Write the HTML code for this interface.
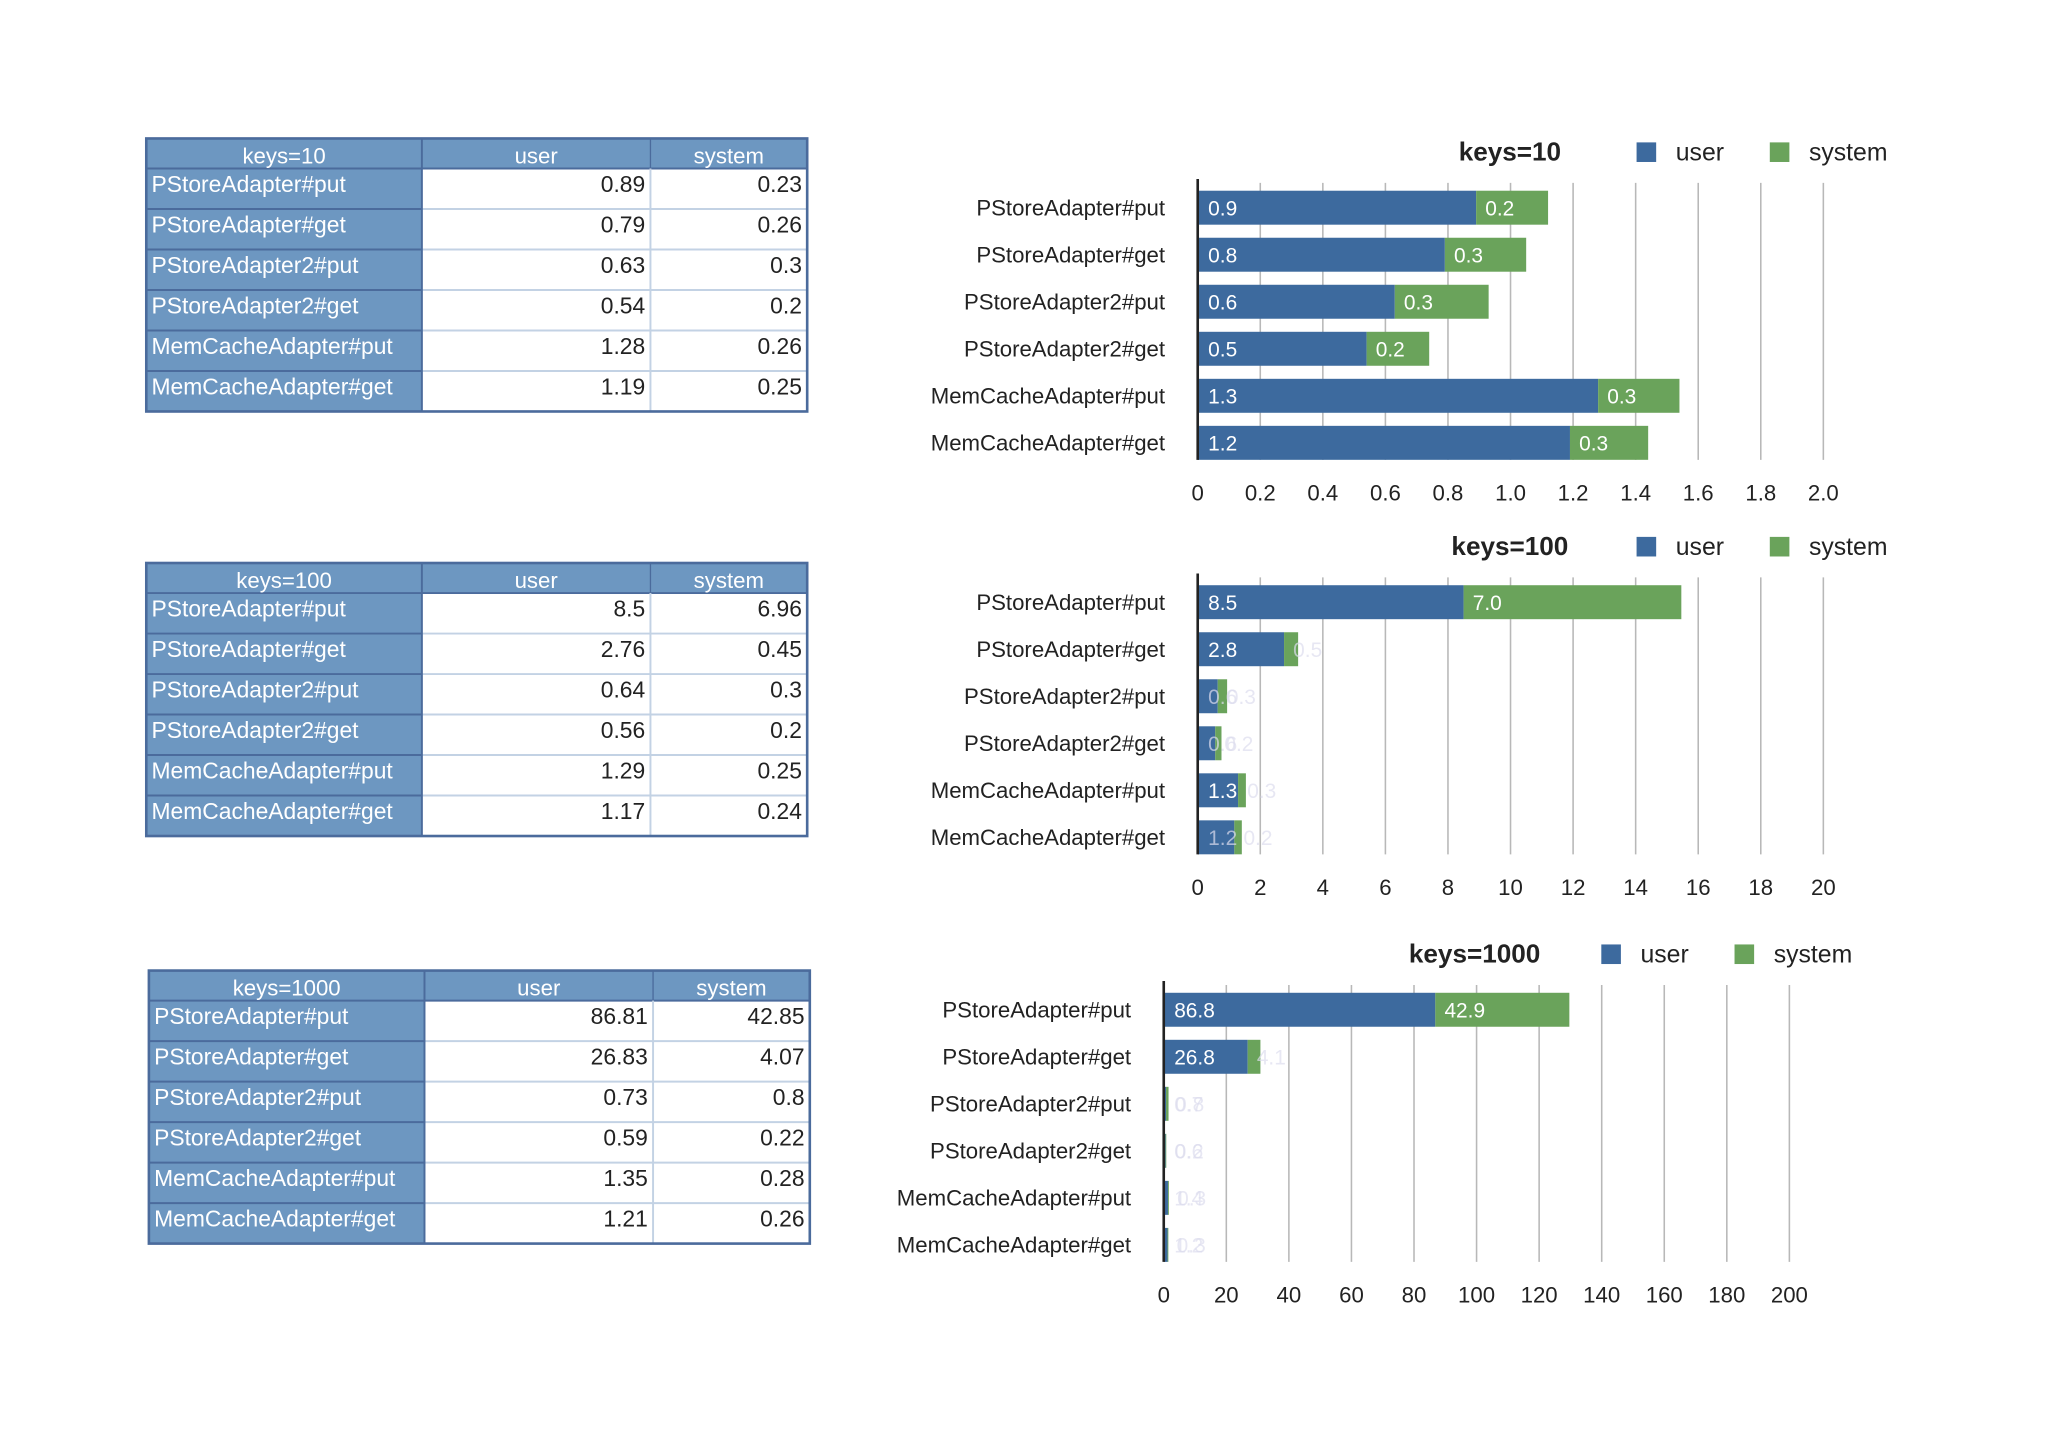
<!DOCTYPE html>
<html><head><meta charset="utf-8"><style>
html,body{margin:0;padding:0;background:#fff;}
svg{display:block;font-family:"Liberation Sans",sans-serif;}
</style></head><body>
<svg id="root" width="2048" height="1433" viewBox="0 0 1568 1097" preserveAspectRatio="none" xmlns="http://www.w3.org/2000/svg">
<rect x="0" y="0" width="1568" height="1097" fill="#fff"/>
</svg>
<script>
const categories = ["PStoreAdapter#put","PStoreAdapter#get","PStoreAdapter2#put","PStoreAdapter2#get","MemCacheAdapter#put","MemCacheAdapter#get"];
const titles = ["keys=10","keys=100","keys=1000"];
const userK10 = [0.89,0.79,0.63,0.54,1.28,1.19];
const sysK10 = [0.23,0.26,0.3,0.2,0.26,0.25];
const userK100 = [8.5,2.76,0.64,0.56,1.29,1.17];
const sysK100 = [6.96,0.45,0.3,0.2,0.25,0.24];
const userK1000 = [86.81,26.83,0.73,0.59,1.35,1.21];
const sysK1000 = [42.85,4.07,0.8,0.22,0.28,0.26];
const ticksK10 = ["0","0.2","0.4","0.6","0.8","1.0","1.2","1.4","1.6","1.8","2.0"];
const ticksK100 = ["0","2","4","6","8","10","12","14","16","18","20"];
const ticksK1000 = ["0","20","40","60","80","100","120","140","160","180","200"];
const maxK10 = 2.0, maxK100 = 20, maxK1000 = 200;

const NS="http://www.w3.org/2000/svg";
const root=document.getElementById('root');
function mk(tag,attrs,parent,text){const e=document.createElementNS(NS,tag);for(const k in attrs)e.setAttribute(k,attrs[k]);if(text!==undefined)e.textContent=text;(parent||root).appendChild(e);return e;}
const BLUE="#3d6a9e",GREEN="#6aa35b",TBL="#6d97c1",TBD="#4b6b9c";

function table(x,y,title,u,s,idx){
  const g=mk('g',{});
  
  
  const w0=211,w1=175,w2=120,hh=23,rh=31;
  const W=w0+w1+w2,H=hh+rh*6;
  mk('rect',{x:x,y:y,width:W,height:hh,fill:TBL},g);
  mk('rect',{x:x,y:y+hh,width:w0,height:rh*6,fill:TBL},g);
  mk('rect',{x:x+w0,y:y+hh,width:w1+w2,height:rh*6,fill:"#fff"},g);
  for(let i=1;i<6;i++){
    mk('line',{x1:x,x2:x+w0,y1:y+hh+rh*i,y2:y+hh+rh*i,stroke:TBD,'stroke-width':1.5},g);
    mk('line',{x1:x+w0,x2:x+W,y1:y+hh+rh*i,y2:y+hh+rh*i,stroke:"#c3d2e4",'stroke-width':1.5},g);
  }
  mk('line',{x1:x,x2:x+W,y1:y+hh,y2:y+hh,stroke:TBD,'stroke-width':1.5},g);
  mk('line',{x1:x+w0,x2:x+w0,y1:y,y2:y+H,stroke:TBD,'stroke-width':1.5},g);
  mk('line',{x1:x+w0+w1,x2:x+w0+w1,y1:y,y2:y+hh,stroke:TBD,'stroke-width':1},g);
  mk('line',{x1:x+w0+w1,x2:x+w0+w1,y1:y+hh,y2:y+H,stroke:"#c3d2e4",'stroke-width':1.5},g);
  mk('rect',{x:x,y:y,width:W,height:H,fill:"none",stroke:TBD,'stroke-width':2},g);
  const hdr=[title,"user","system"],cx=[x+w0/2,x+w0+w1/2,x+w0+w1+w2/2];
  hdr.forEach((t,i)=>{const e=mk('text',{x:cx[i],y:y+19,'font-size':17,fill:"#fff",'text-anchor':'middle'},g,t);
    
    });
  categories.forEach((c,i)=>{
    const ty=y+hh+rh*i+18;
    mk('text',{x:x+4,y:ty,'font-size':17.5,fill:"#fff"},g,c);
    mk('text',{x:x+w0+w1-4,y:ty,'font-size':17.5,fill:"#222",'text-anchor':'end'},g,String(u[i]));
    mk('text',{x:x+W-4,y:ty,'font-size':17.5,fill:"#222",'text-anchor':'end'},g,String(s[i]));
  });
}
table(112,106,titles[0],userK10,sysK10,0);
table(112,431,titles[1],userK100,sysK100,1);
table(114,743,titles[2],userK1000,sysK1000,2);

function fmt(v){return v.toFixed(1);}
function chart(x0,top,title,titleX,legX,u,s,ticks,max,idx){
  const g=mk('g',{});
  
  
  const plotW=479;
  const sx=v=>x0+v/max*plotW;
  const firstC=top+49, step=36, bh=26;
  const gy1=firstC-19, gy2=firstC+5*step+13;
  ticks.forEach((t,i)=>{
    const v=max*i/(ticks.length-1);
    if(i>0) mk('line',{x1:sx(v),x2:sx(v),y1:gy1,y2:gy2,stroke:"#b8b8b8",'stroke-width':1.2},g);
    const e=mk('text',{x:sx(v),y:top+273,'font-size':17,fill:"#222",'text-anchor':'middle'},g,t);
    
    
  });
  categories.forEach((c,i)=>{
    const cy=firstC+i*step;
    const l=mk('text',{x:x0-25,y:cy+6,'font-size':17,fill:"#222",'text-anchor':'end'},g,c);
    
    
    const b=mk('rect',{x:sx(0),y:cy-bh/2,width:sx(u[i])-sx(0),height:bh,fill:BLUE},g);
    
    
    const b2=mk('rect',{x:sx(u[i]),y:cy-bh/2,width:sx(u[i]+s[i])-sx(u[i]),height:bh,fill:GREEN},g);
    
    
    const uw=sx(u[i])-sx(0), sw=sx(u[i]+s[i])-sx(u[i]);
    mk('text',{x:sx(0)+8,y:cy+6,'font-size':16,fill:uw>30?"#fff":"#dde",opacity:uw>30?1:0.7},g,fmt(u[i]));
    mk('text',{x:sx(u[i])+7,y:cy+6,'font-size':16,fill:sw>30?"#fff":"#dde",opacity:sw>30?1:0.7},g,fmt(s[i]));
  });
  mk('line',{x1:x0,x2:x0,y1:gy1-3,y2:gy2,stroke:"#222",'stroke-width':2},g);
  const tt=mk('text',{x:titleX,y:top+13,'font-size':20,'font-weight':'bold',fill:"#222",'text-anchor':'middle'},g,title);
  
  
  const lu=mk('rect',{x:legX,y:top-1,width:15,height:15,fill:BLUE},g);
  
  
  mk('text',{x:legX+30,y:top+13,'font-size':19,fill:"#222"},g,"user");
  const ls=mk('rect',{x:legX+102,y:top-1,width:15,height:15,fill:GREEN},g);
  
  
  mk('text',{x:legX+132,y:top+13,'font-size':19,fill:"#222"},g,"system");
}
chart(917,110,titles[0],1156,1253,userK10,sysK10,ticksK10,maxK10,0);
chart(917,412,titles[1],1156,1253,userK100,sysK100,ticksK100,maxK100,1);
chart(891,724,titles[2],1129,1226,userK1000,sysK1000,ticksK1000,maxK1000,2);
</script>
</body></html>
